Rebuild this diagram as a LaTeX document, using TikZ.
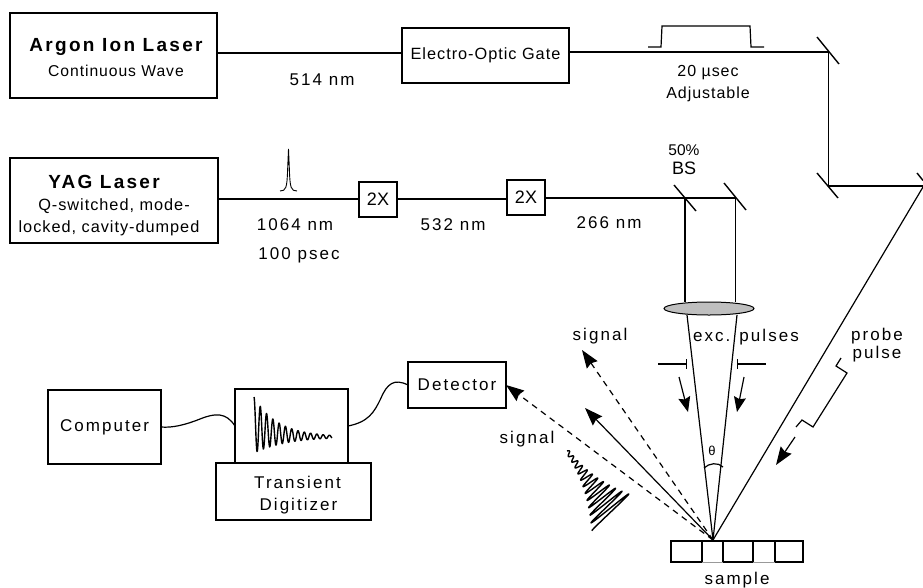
\documentclass[tikz,border=0pt]{standalone}
\usepackage{fontspec}
\setmainfont[LetterSpace=6]{Liberation Sans}
\usetikzlibrary{shapes.geometric, arrows.meta, positioning, calc}
\newfontfamily\headfont[LetterSpace=12]{Liberation Sans Bold}
\newfontfamily\tightfont{Liberation Sans}
\newfontfamily\widefont[LetterSpace=12]{Liberation Sans}
\tikzset{
  block/.style = {rectangle, draw, line width=2pt, inner sep=0pt, outer sep=0pt,
    align=center, font=\fontsize{16.3}{22}\selectfont},
  bigblock/.style = {block, font=\widefont\fontsize{17}{22}\selectfont},
  tag/.style = {inner sep=0pt, align=center, font=\widefont\fontsize{17}{22}\selectfont},
  beam/.style = {line width=1.2pt},
  mirror/.style = {line width=1.4pt},
  arrow/.style = {line width=1.2pt, -{Stealth[length=15pt, width=12pt, inset=2pt]}},
  bigarrow/.style = {line width=1.2pt, -{Stealth[length=18pt, width=13pt, inset=2pt]}},
  dasharrow/.style = {bigarrow, dash pattern=on 6pt off 5pt},
  trace/.style = {line width=1.4pt, line join=round},
}
\begin{document}
\begin{tikzpicture}[x=1pt, y=-1pt]
  \useasboundingbox (0,0) rectangle (923,587);

  \node[block, minimum width=207pt, minimum height=85pt] (argon) at (113.5,55.5)
    {\rule{0pt}{18pt}\hspace*{5pt}{\headfont\fontsize{19}{25}\selectfont Argon Ion Laser}\\[3pt]\hspace*{5pt}{\fontsize{15.7}{22}\selectfont Continuous Wave}};
  \node[block, minimum width=167pt, minimum height=55pt] (gate) at (485.5,55.5) {Electro-Optic Gate};
  \node[block, minimum width=208pt, minimum height=85pt] (yag) at (114,200.5)
    {\rule{0pt}{24pt}{\headfont\fontsize{19}{24}\selectfont YAG Laser}\hspace*{20pt}\\Q-switched, mode-\hspace*{10pt}\\locked, cavity-dumped\hspace*{10pt}};
  \node[block, minimum width=38pt, minimum height=35pt, font=\tightfont\fontsize{18}{22}\selectfont] (dblA) at (378,199.5) {2X};
  \node[block, minimum width=38pt, minimum height=35pt, font=\tightfont\fontsize{18}{22}\selectfont] (dblB) at (526,197.5) {2X};

  \node[bigblock, minimum width=113pt, minimum height=74pt] (computer) at (104.5,427) {Computer};
  \node[block, minimum width=113pt, minimum height=74pt] (screen) at (291.5,426) {};
  \node[bigblock, minimum width=155pt, minimum height=57pt] (digitizer) at (293.5,491.5)
    {\rule{0pt}{19pt}\hspace*{8pt}Transient\\\hspace*{10pt}Digitizer};
  \node[bigblock, minimum width=98pt, minimum height=46pt] (detector) at (457,385) {Detector};

  \coordinate (mirA) at (828.5,52);
  \coordinate (mirB) at (828.5,186);
  \coordinate (mirC) at (923,186);
  \coordinate (split) at (685,198);
  \coordinate (mirD) at (735.5,198);
  \coordinate (lensL) at (687,315);
  \coordinate (lensR) at (737,315);
  \coordinate (spot) at (713,540);
  \coordinate (cornerR) at (923,187);

  % beam lines
  \draw[beam] (argon.east |- 0,53) -- (gate.west |- 0,53);
  \draw[beam] (gate.east |- 0,52) -- (mirA) -- (mirB) -- (mirC);
  \draw[beam] (yag.east |- 0,199) -- (dblA.west |- 0,199);
  \draw[beam] (dblA.east |- 0,199) -- (dblB.west |- 0,199);
  \draw[beam] (dblB.east |- 0,198) -- (split) -- (mirD);
  \draw[beam] (split) -- (685,302);
  \draw[beam] (mirD) -- (735.5,302);
  \draw[beam] (lensL) -- (spot);
  \draw[beam] (lensR) -- (spot);
  \draw[beam] (cornerR) -- (spot);

  % mirrors
  \draw[mirror] (817,37) -- (839,64);
  \draw[mirror] (817,173) -- (838,198);
  \draw[mirror] (917,173) -- (923,180.5);
  \draw[mirror] (674,185) -- (696,211);
  \draw[mirror] (724,183) -- (746,210);

  \node[draw, line width=1pt, fill=black!25, ellipse, minimum width=90pt, minimum height=13pt, inner sep=0pt] (lens) at (709,308.5) {};

  % pulses
  \draw[beam] (648,47) -- (661,47) -- (662,26) -- (750,26) -- (751,47) -- (764,47);
  \draw[line width=0.9pt] (280,191) .. controls (286,191) and (287,188) .. (287.6,170) -- (288.5,149)
    -- (289.4,170) .. controls (290,188) and (291,191) .. (297,191);
  \draw[beam] (841,358) -- (836,366) -- (847,373) -- (813,427) -- (802,420) -- (796,427);
  \draw[trace] plot[domain=0:1, samples=260, smooth] ({254+78*\x}, {425+12*(1-exp(-4*\x))-28*exp(-3*\x)*cos(360*12.4*\x)});
  \draw[trace] plot[domain=0:1, samples=300, smooth]
    ({567+45*\x+0.75*(2+25*\x*\x)*sin(360*11.75*\x)}, {451+62*\x-0.66*(2+25*\x*\x)*sin(360*11.75*\x)});

  % cables
  \draw[beam] (computer.east) .. controls (172,428) and (185,425) .. (200,419)
    .. controls (215,413) and (226,412) .. (screen.west);
  \draw[beam] (screen.east) .. controls (368,422) and (374,413) .. (381,398)
    .. controls (387,384) and (394,378) .. (detector.west);

  % signal and pump arrows
  \draw[dasharrow] (spot) -- (582,350);
  \draw[bigarrow] (spot) -- (585,408);
  \draw[dasharrow] (spot) -- (detector.east |- 0,385);
  \draw[arrow] (679,377) -- (688,412);
  \draw[arrow] (744,377) -- (737,412);
  \draw[bigarrow] (795,437) -- (776,465);

  % slits
  \draw[line width=1.6pt] (658,364) -- (686,364);
  \draw[beam] (686.5,359) -- (686.5,369);
  \draw[line width=1.6pt] (738,364) -- (766,364);
  \draw[beam] (737.5,359) -- (737.5,369);
  \draw[beam] (704,468) .. controls (709,463) and (718,462) .. (723,467);

  % sample
  \draw[beam] (671,541) rectangle (702,562);
  \draw[beam] (723,541) rectangle (753,562);
  \draw[beam] (775,541) rectangle (803,562);
  \draw[line width=0.8pt, black!40] (702,562) -- (723,562) (753,562) -- (775,562);
  \draw[line width=2.2pt] (671,541) -- (803,541);

  % labels
  \node[tag] (wlA) at (322,80) {514 nm};
  \node[tag] (wlB) at (295,225) {1064 nm};
  \node[tag] (width) at (299,255) {100 psec};
  \node[tag] (wlC) at (453,225) {532 nm};
  \node[tag] (wlD) at (609,223) {266 nm};
  \node[tag, font=\fontsize{16}{22}\selectfont] (gateLen) at (708,84) {20 µsec\\Adjustable};
  \node[inner sep=0pt, font=\tightfont\fontsize{15.5}{16}\selectfont] (pct) at (684,150) {50\%};
  \node[inner sep=0pt, font=\tightfont\fontsize{18}{20}\selectfont] (bs) at (684,168) {BS};
  \node[tag] (excLbl) at (746,337) {exc. pulses};
  \node[tag] (sigA) at (600,336) {signal};
  \node[tag] (sigB) at (527,439) {signal};
  \node[tag, font=\widefont\fontsize{17}{18}\selectfont] (probe) at (877,345) {probe\\pulse};
  \node[inner sep=0pt, font=\tightfont\fontsize{13}{15}\selectfont] (theta) at (712,451) {θ};
  \node[tag] (sample) at (737,580) {sample};
\end{tikzpicture}
\end{document}
